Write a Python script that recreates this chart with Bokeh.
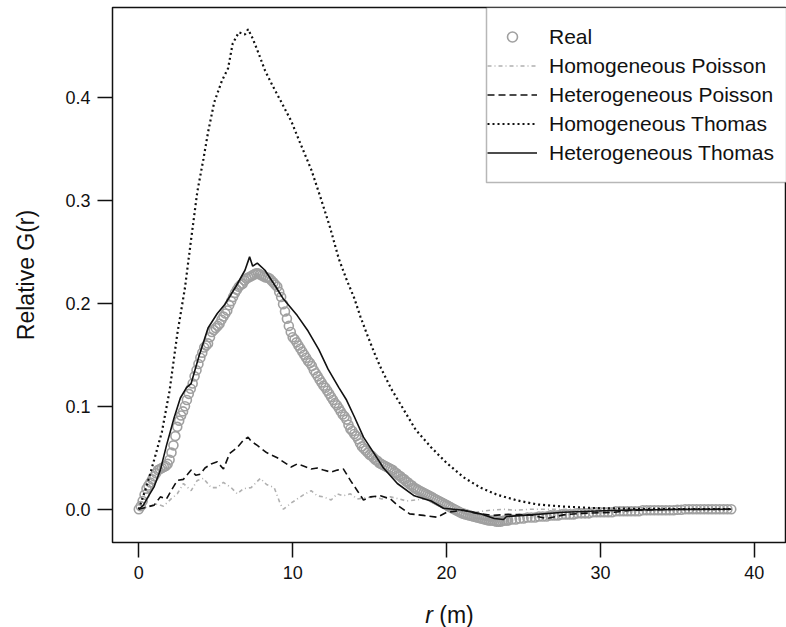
import numpy as np
from bokeh.plotting import figure
from bokeh.layouts import column
from bokeh.models import (FixedTicker, PrintfTickFormatter, Legend, LegendItem,
                          Label, BoxAnnotation, Range1d)
from bokeh.embed import file_html
from bokeh.resources import INLINE

# ---------------- data ----------------
x_ticks = [0, 10, 20, 30, 40]
y_ticks = [0.0, 0.1, 0.2, 0.3, 0.4]

# observed G(r): fine spacing (0.125 m) up to 24 m, then 0.25 m
real_g_fine = [
    0.000, 0.003, 0.008, 0.014, 0.020, 0.023, 0.026, 0.029,
    0.032, 0.035, 0.038, 0.039, 0.040, 0.041, 0.042, 0.044,
    0.048, 0.055, 0.062, 0.071, 0.080, 0.086, 0.091, 0.095,
    0.100, 0.106, 0.112, 0.117, 0.122, 0.129, 0.135, 0.141,
    0.147, 0.152, 0.157, 0.159, 0.161, 0.167, 0.172, 0.174,
    0.176, 0.178, 0.180, 0.184, 0.187, 0.190, 0.193, 0.198,
    0.202, 0.206, 0.210, 0.213, 0.216, 0.218, 0.219, 0.222,
    0.224, 0.225, 0.226, 0.227, 0.228, 0.229, 0.229, 0.228,
    0.227, 0.226, 0.225, 0.225, 0.224, 0.222, 0.220, 0.218,
    0.216, 0.211, 0.206, 0.199, 0.192, 0.185, 0.178, 0.172,
    0.167, 0.165, 0.162, 0.159, 0.156, 0.153, 0.150, 0.147,
    0.144, 0.142, 0.139, 0.135, 0.132, 0.129, 0.126, 0.123,
    0.120, 0.118, 0.115, 0.112, 0.109, 0.106, 0.103, 0.101,
    0.098, 0.095, 0.092, 0.090, 0.087, 0.082, 0.078, 0.076,
    0.073, 0.071, 0.068, 0.064, 0.061, 0.059, 0.057, 0.055,
    0.053, 0.052, 0.050, 0.048, 0.047, 0.045, 0.044, 0.043,
    0.042, 0.041, 0.040, 0.039, 0.038, 0.036, 0.035, 0.033,
    0.032, 0.030, 0.029, 0.027, 0.026, 0.024, 0.023, 0.021,
    0.020, 0.019, 0.018, 0.017, 0.016, 0.015, 0.014, 0.013,
    0.012, 0.011, 0.010, 0.009, 0.008, 0.007, 0.006, 0.005,
    0.004, 0.003, 0.002, 0.001, 0.000, -0.001, -0.002, -0.003,
    -0.004, -0.0045, -0.005, -0.0055, -0.006, -0.0065, -0.007, -0.0075,
    -0.008, -0.0085, -0.009, -0.0095, -0.010, -0.0105, -0.011, -0.011,
    -0.011, -0.0115, -0.012, -0.012, -0.012, -0.0115, -0.011, -0.011,
    -0.011]
real_g_coarse = [
    -0.010, -0.010, -0.009, -0.009, -0.008, -0.008, -0.008, -0.007,
    -0.007, -0.007, -0.006, -0.006, -0.006, -0.005, -0.005, -0.005,
    -0.005, -0.004, -0.004, -0.004, -0.004, -0.003, -0.003, -0.003,
    -0.003, -0.003, -0.003, -0.002, -0.002, -0.002, -0.002, -0.002,
    -0.002, -0.002, -0.001, -0.001, -0.001, -0.001, -0.001, -0.001,
    -0.001, -0.001, -0.001, -0.0005, -0.0005, 0.000, 0.000, 0.000,
    0.000, 0.000, 0.000, 0.000, 0.000, 0.000, 0.000, 0.000,
    0.000, 0.000]
real_r = ([round(0.125 * i, 3) for i in range(len(real_g_fine))] +
          [round(24.25 + 0.25 * i, 2) for i in range(len(real_g_coarse))])
real_g = real_g_fine + real_g_coarse

hom_poisson_r = [0, 0.5, 1.2, 1.6, 2.1, 2.5, 2.9, 3.4, 3.8, 4.2, 4.7, 5.1, 5.5, 6.0,
                 6.4, 6.8, 7.3, 7.9, 8.3, 8.8, 9.2, 9.4, 9.9, 10.3, 10.7, 11.2, 11.6,
                 12.0, 12.5, 12.9, 13.3, 13.75, 14.2, 14.7, 15.3, 15.8, 16.35, 16.9,
                 17.4, 18.0, 18.5, 19.0, 19.6, 20.2, 20.7, 21.3, 21.8, 22.3, 22.85,
                 23.7, 24.4, 25.5, 30.0, 38.5]
hom_poisson_g = [0, 0.002, 0.005, 0.003, 0.010, 0.015, 0.025, 0.018, 0.028, 0.030,
                 0.021, 0.021, 0.026, 0.021, 0.015, 0.020, 0.021, 0.030, 0.024, 0.021,
                 0.005, 0.000, 0.006, 0.010, 0.014, 0.018, 0.013, 0.012, 0.009, 0.015,
                 0.013, 0.015, 0.010, 0.011, 0.012, 0.010, 0.012, 0.010, 0.008, 0.009,
                 0.010, 0.008, 0.007, 0.004, 0.002, -0.001, -0.003, -0.002, -0.001,
                 0.000, -0.001, 0.000, 0.000, 0.000]

het_poisson_r = [0, 0.5, 1.0, 1.4, 1.8, 2.1, 2.5, 2.9, 3.4, 3.7, 4.0, 4.3, 4.7, 5.1,
                 5.5, 5.9, 6.4, 6.8, 7.1, 7.3, 7.7, 8.3, 9.0, 9.5, 9.9, 10.3, 10.7,
                 11.2, 11.6, 12.0, 12.5, 12.9, 13.3, 13.75, 14.2, 14.6, 15.05, 15.7,
                 16.35, 16.8, 17.6, 18.5, 19.4, 20.0, 21.1, 22.0, 23.0, 24.0, 25.45,
                 26.5, 27.6, 28.7, 30.9, 32.0, 35.0, 38.5]
het_poisson_g = [0, 0.002, 0.004, 0.012, 0.010, 0.018, 0.028, 0.029, 0.038, 0.033,
                 0.034, 0.040, 0.044, 0.046, 0.039, 0.054, 0.060, 0.067, 0.070, 0.066,
                 0.062, 0.055, 0.050, 0.045, 0.041, 0.044, 0.042, 0.039, 0.040, 0.038,
                 0.036, 0.038, 0.039, 0.028, 0.018, 0.009, 0.012, 0.013, 0.010, 0.004,
                 -0.0045, -0.006, -0.0078, -0.003, -0.001, -0.004, -0.006, -0.005,
                 -0.0055, -0.009, -0.0055, -0.004, -0.003, -0.001, 0.000, 0.000]

hom_thomas_r = [0, 0.5, 1.0, 1.5, 2.0, 2.5, 3.0, 3.4, 3.8, 4.2, 4.5, 4.9, 5.4, 5.8,
                6.1, 6.5, 6.9, 7.1, 7.4, 7.8, 8.2, 8.7, 9.2, 9.9, 10.5, 11.2, 11.8,
                12.4, 13.0, 13.5, 14.0, 14.4, 14.8, 15.3, 15.7, 16.4, 17.2, 18.0, 19.0,
                20.0, 21.1, 22.2, 23.3, 24.6, 25.9, 27.6, 29.8, 32.0, 35.0, 38.5]
hom_thomas_g = [0, 0.022, 0.048, 0.075, 0.115, 0.170, 0.215, 0.262, 0.308, 0.340,
                0.366, 0.395, 0.416, 0.428, 0.452, 0.463, 0.461, 0.466, 0.457, 0.442,
                0.426, 0.411, 0.397, 0.377, 0.355, 0.330, 0.303, 0.275, 0.243, 0.223,
                0.205, 0.187, 0.171, 0.152, 0.138, 0.117, 0.097, 0.077, 0.060, 0.045,
                0.031, 0.021, 0.014, 0.0085, 0.0046, 0.0026, 0.001, 0.0005, 0.0002, 0.0]

het_thomas_r = [0, 0.3, 0.6, 1.0, 1.4, 1.8, 2.3, 2.7, 3.1, 3.4, 3.9, 4.5, 5.1, 5.6,
                6.3, 6.9, 7.2, 7.4, 7.7, 8.2, 8.9, 9.4, 10.3, 11.0, 11.7, 12.3, 13.0,
                13.5, 14.0, 14.6, 15.3, 15.9, 16.8, 17.9, 19.0, 19.8, 21.1, 22.2, 23.1,
                23.7, 23.9, 25.5, 27.6, 30.2, 32.0, 35.0, 38.5]
het_thomas_g = [0, 0.004, 0.012, 0.022, 0.038, 0.062, 0.089, 0.108, 0.118, 0.122,
                0.148, 0.176, 0.190, 0.199, 0.216, 0.232, 0.245, 0.236, 0.239, 0.232,
                0.216, 0.204, 0.188, 0.173, 0.155, 0.136, 0.118, 0.106, 0.090, 0.070,
                0.054, 0.040, 0.025, 0.013, 0.008, 0.001, -0.001, -0.0045, -0.009,
                -0.010, -0.007, -0.0055, -0.003, -0.0015, -0.0008, -0.0003, 0.0]

legend_labels = ["Real", "Homogeneous Poisson", "Heterogeneous Poisson",
                 "Homogeneous Thomas", "Heterogeneous Thomas"]
y_title = "Relative G(r)"

# ---------------- layout geometry ----------------
PAGE_W, PAGE_H = 786, 627
W, H = PAGE_W, 590             # main figure
XT_H = PAGE_H - H              # strip holding the x title
B_LEFT, B_RIGHT, B_TOP, B_BOTTOM = 112, 0, 7, 48
FW, FH = W - B_LEFT - B_RIGHT, H - B_TOP - B_BOTTOM
X0, X1 = -1.709, 42.09
Y0, Y1 = -0.0323, 0.4871

def dx(px):   # canvas px -> data x
    return X0 + (px - B_LEFT) / FW * (X1 - X0)

def dy(py):   # canvas px -> data y
    return Y1 - (py - B_TOP) / FH * (Y1 - Y0)

INK = "#111111"
FONT = "Liberation Sans"
FS_LEG = 21
FS_T = 23

p = figure(width=W, height=H, output_backend="svg", toolbar_location=None,
           x_range=Range1d(X0, X1), y_range=Range1d(Y0, Y1),
           min_border_left=B_LEFT, min_border_right=B_RIGHT,
           min_border_top=B_TOP, min_border_bottom=B_BOTTOM)
p.frame_align = False
p.xgrid.visible = False
p.ygrid.visible = False
p.outline_line_color = INK
p.outline_line_width = 1.5
p.background_fill_color = "white"
p.border_fill_color = "white"

for ax in (p.xaxis[0], p.yaxis[0]):
    ax.axis_line_color = None
    ax.major_tick_out = 15
    ax.major_tick_in = 0
    ax.major_tick_line_width = 1.5
    ax.major_tick_line_color = INK
    ax.minor_tick_line_color = None
    ax.major_label_text_font = FONT
    ax.major_label_text_font_size = "18px"
    ax.major_label_text_color = INK
p.xaxis.major_label_standoff = 8
p.yaxis.major_label_standoff = 7
p.xaxis.ticker = FixedTicker(ticks=x_ticks)
p.yaxis.ticker = FixedTicker(ticks=y_ticks)
p.yaxis.formatter = PrintfTickFormatter(format="%.1f")
p.yaxis.major_label_orientation = "horizontal"

p.yaxis.axis_label = y_title
p.yaxis.axis_label_text_font = FONT
p.yaxis.axis_label_text_font_size = f"{FS_T}px"
p.yaxis.axis_label_text_font_style = "normal"
p.yaxis.axis_label_text_color = INK
p.yaxis.axis_label_standoff = 23

# ---------------- series ----------------
r_real = p.scatter(real_r, real_g, size=9, marker="circle", fill_color=None,
                   line_color="#a0a0a0", line_width=1.6)
r_hp = p.line(hom_poisson_r, hom_poisson_g, line_color="#b0b0b0", line_width=1.6,
              line_dash="4 3 1 3")
r_htp = p.line(het_poisson_r, het_poisson_g, line_color=INK, line_width=1.6,
               line_dash="7 4")
r_ht = p.line(hom_thomas_r, hom_thomas_g, line_color=INK, line_width=2.2,
              line_dash="2 3")
r_htt = p.line(het_thomas_r, het_thomas_g, line_color=INK, line_width=1.6)

# ---------------- legend ----------------
box = BoxAnnotation(left=dx(486), right=X1, top=Y1, bottom=dy(182),
                    fill_color="white", fill_alpha=1.0, line_color=INK,
                    line_width=1.5, level="underlay")
p.add_layout(box)

legend = Legend(items=[LegendItem(label=l, renderers=[r]) for l, r in
                       zip(legend_labels, [r_real, r_hp, r_htp, r_ht, r_htt])],
                location=(375, 377), padding=5, spacing=4, glyph_width=50,
                glyph_height=25, label_height=25, label_standoff=12,
                label_text_font=FONT, label_text_font_size=f"{FS_LEG}px",
                label_text_color=INK, border_line_color=None,
                background_fill_alpha=0.0, margin=0)
p.add_layout(legend)

# ---------------- x title strip ("r (m)", r italic) ----------------
xt = figure(width=PAGE_W, height=XT_H, output_backend="svg", toolbar_location=None,
            x_range=Range1d(0, PAGE_W), y_range=Range1d(0, XT_H),
            x_axis_type=None, y_axis_type=None, min_border=0,
            outline_line_color=None)
xt.frame_align = False
xt.grid.visible = False
xpieces = [("r", "italic", 0.333 + 0.278), ("(m)", "normal", 1.499)]
tw = sum(a for _, _, a in xpieces) * FS_T
sx = (B_LEFT + PAGE_W) / 2.0 - tw / 2.0
for t, style, adv in xpieces:
    xt.add_layout(Label(x=sx, y=PAGE_H - 614, text=t, text_align="left",
                        text_baseline="middle", text_font=FONT,
                        text_font_size=f"{FS_T}px", text_font_style=style,
                        text_color=INK))
    sx += adv * FS_T

layout = column(p, xt, spacing=0)
open("out.html", "w").write(file_html(layout, INLINE))
